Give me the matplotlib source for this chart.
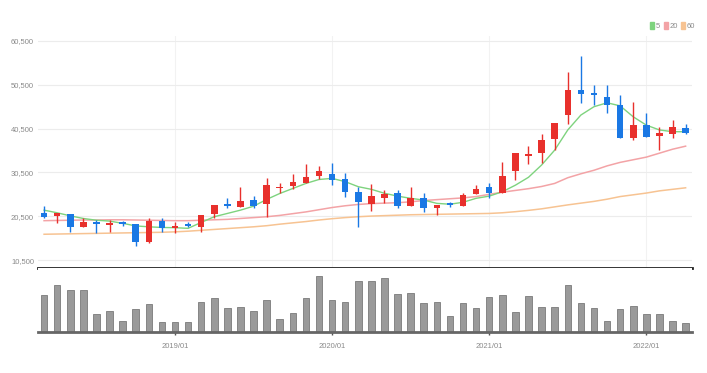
"""
Monthly candlestick chart with 5/20/60 moving averages and volume bars.
"""

import numpy as np
import matplotlib
matplotlib.use("Agg")
import matplotlib.pyplot as plt
from matplotlib.patches import Patch


# Monthly data, 2018/03 .. 2022/04
months = ["2018/03", "2018/04", "2018/05", "2018/06", "2018/07", "2018/08", "2018/09", "2018/10",
          "2018/11", "2018/12", "2019/01", "2019/02", "2019/03", "2019/04", "2019/05", "2019/06",
          "2019/07", "2019/08", "2019/09", "2019/10", "2019/11", "2019/12", "2020/01", "2020/02",
          "2020/03", "2020/04", "2020/05", "2020/06", "2020/07", "2020/08", "2020/09", "2020/10",
          "2020/11", "2020/12", "2021/01", "2021/02", "2021/03", "2021/04", "2021/05", "2021/06",
          "2021/07", "2021/08", "2021/09", "2021/10", "2021/11", "2021/12", "2022/01", "2022/02",
          "2022/03", "2022/04"]

opens = [21160, 20550, 21070, 18040, 19250, 18420, 19110, 18650, 14680, 19470,
         17740, 18790, 18100, 20940, 23150, 22670, 24200, 23280, 26870, 27400,
         28150, 29680, 30140, 28930, 26100, 23280, 24730, 25730, 22900, 24590,
         22300, 23450, 22900, 25570, 27240, 25870, 30820, 34250, 34860, 38130,
         43600, 49310, 48700, 47790, 45890, 38430, 41320, 38810, 39270, 40700]
highs = [22830, 21300, 21100, 20020, 19650, 19650, 19500, 18700, 20020, 20020,
         19110, 19110, 20780, 23060, 24590, 27100, 25110, 29290, 28010, 30140,
         32420, 31960, 32720, 30300, 27240, 27790, 26480, 26480, 27240, 25730,
         23060, 23830, 25870, 27600, 28010, 32950, 35000, 36530, 39200, 41850,
         53350, 57080, 50450, 50450, 48170, 46640, 44130, 40930, 42460, 41480]
lows = [20020, 18880, 16960, 18040, 16600, 16960, 18330, 13770, 14310, 16960,
        16600, 18100, 16960, 20020, 22310, 22670, 22300, 20440, 25730, 26640,
        28150, 28930, 27600, 24960, 18100, 21690, 23450, 22300, 22900, 21540,
        20820, 22670, 22900, 25570, 24590, 25870, 28770, 32420, 32580, 35620,
        41650, 46410, 45890, 44130, 38300, 37900, 38660, 35620, 38290, 39270]
closes = [20250, 21300, 18100, 19110, 18790, 18880, 18720, 14540, 19400, 17880,
          18330, 18260, 20780, 23060, 22950, 24040, 22830, 27530, 27240, 28380,
          29520, 30820, 28770, 26100, 23680, 25110, 25500, 22900, 24590, 22300,
          23060, 23060, 25270, 26640, 25730, 29680, 35000, 34710, 37900, 41850,
          49310, 48330, 48170, 45890, 38430, 41320, 38660, 39580, 40800, 39560]

ma5 = [21900, 21300, 20600, 20000, 19600, 19400, 18900, 18300, 18100, 17950,
       17900, 17750, 19100, 20400, 21150, 21900, 22800, 24350, 25700, 26850,
       28000, 28900, 29150, 28400, 27250, 26650, 25750, 25100, 24600, 24200,
       23450, 23250, 23700, 24600, 25100, 26100, 27600, 29400, 32200, 35600,
       40200, 43600, 45500, 46400, 45700, 43200, 41300, 40200, 39800, 39800]
ma20 = [19500, 19550, 19600, 19650, 19650, 19700, 19700, 19650, 19600, 19550,
        19500, 19500, 19600, 19700, 19800, 20000, 20200, 20400, 20700, 21100,
        21500, 22000, 22500, 22900, 23200, 23400, 23500, 23600, 23800, 24100,
        24300, 24500, 24700, 25000, 25500, 26000, 26400, 26800, 27300, 28000,
        29300, 30200, 31000, 32000, 32800, 33400, 34000, 34900, 35800, 36500]
ma60 = [16400, 16450, 16500, 16550, 16600, 16650, 16700, 16750, 16800, 16850,
        16950, 17100, 17300, 17500, 17700, 17900, 18100, 18350, 18700, 19000,
        19300, 19650, 19950, 20200, 20400, 20550, 20650, 20750, 20850, 20900,
        20950, 21000, 21050, 21100, 21150, 21300, 21550, 21850, 22200, 22650,
        23100, 23500, 23900, 24400, 25000, 25400, 25800, 26300, 26650, 27000]

volumes = [108, 140, 125, 123, 53, 62, 33, 67, 84, 28,
           28, 28, 90, 100, 70, 75, 62, 95, 37, 57,
           100, 165, 95, 88, 152, 150, 160, 113, 115, 85,
           90, 47, 85, 70, 103, 108, 59, 105, 73, 75,
           138, 85, 70, 32, 68, 78, 53, 53, 33, 26]

price_ticks = [10500, 20500, 30500, 40500, 50500, 60500]
year_ticks = ["2019/01", "2020/01", "2021/01", "2022/01"]

# Colors
up_color = "#e8302c"
down_color = "#1a78e4"
ma_colors = {"5": "#7ed37e", "20": "#f3a3a6", "60": "#f7c392"}
text_color = "#8a8a8a"

plt.rcParams["font.family"] = ["Liberation Sans", "DejaVu Sans"]


def draw_candles(ax, xs):
    o = np.array(opens)
    c = np.array(closes)
    colors = [up_color if cc >= oo else down_color for oo, cc in zip(o, c)]
    bottoms = np.minimum(o, c)
    heights = np.maximum(np.abs(c - o), 300)
    ax.vlines(xs, lows, highs, colors=colors, linewidth=1, zorder=3)
    ax.bar(xs, heights, bottom=bottoms, width=0.5, color=colors, linewidth=0, zorder=4)


def main():
    fig = plt.figure(figsize=(7.07, 3.73), dpi=100)
    ax = fig.add_axes([0.054, 0.2815, 0.925, 0.622])
    vax = fig.add_axes([0.054, 0.110, 0.925, 0.1715], sharex=ax)

    xs = np.arange(len(months))
    tick_pos = [months.index(m) for m in year_ticks]

    # price panel
    ax.plot(xs, ma60, color=ma_colors["60"], linewidth=1.1, zorder=2)
    ax.plot(xs, ma20, color=ma_colors["20"], linewidth=1.1, zorder=2)
    ax.plot(xs, ma5, color=ma_colors["5"], linewidth=1.0, zorder=2)
    draw_candles(ax, xs)

    ax.set_xlim(-0.45, len(months) - 0.5)
    ax.set_ylim(8700, 61640)
    ax.set_yticks(price_ticks)
    ax.set_yticklabels(["{:,}".format(p) for p in price_ticks])
    ax.tick_params(axis="y", length=0, pad=3, labelsize=5.5, labelcolor=text_color)
    ax.tick_params(axis="x", length=0, labelbottom=False)
    ax.set_xticks(tick_pos)
    ax.grid(True, axis="y", color="#ececec", linewidth=0.8, zorder=0)
    ax.grid(True, axis="x", color="#f2f2f2", linewidth=0.8, zorder=0)
    ax.set_axisbelow(True)
    for s in ["top", "right", "left"]:
        ax.spines[s].set_visible(False)
    ax.spines["bottom"].set_color("#222222")
    ax.spines["bottom"].set_linewidth(2)

    handles = [Patch(color=ma_colors[k], label=k) for k in ["5", "20", "60"]]
    fig.legend(handles=handles, loc="upper right", bbox_to_anchor=(0.993, 0.96), ncol=3,
               frameon=False, fontsize=5.5, handlelength=0.5, handleheight=1.0,
               handletextpad=0.2, columnspacing=0.5, labelcolor=text_color)

    # volume panel
    vax.bar(xs, volumes, width=0.5, color="#9a9a9a", edgecolor="#7a7a7a", linewidth=0.6, zorder=2)
    vax.set_ylim(0, 189)
    vax.set_yticks([])
    vax.set_xticks(tick_pos)
    vax.set_xticklabels(year_ticks)
    vax.tick_params(axis="x", length=4, width=1, color="#555555", labelsize=5.5,
                    labelcolor=text_color, pad=6, direction="inout")
    for s in ["top", "right", "left"]:
        vax.spines[s].set_visible(False)
    vax.spines["bottom"].set_color("#666666")
    vax.spines["bottom"].set_linewidth(2)

    fig.savefig("out.png", dpi=100)
    plt.close(fig)


if __name__ == "__main__":
    main()
